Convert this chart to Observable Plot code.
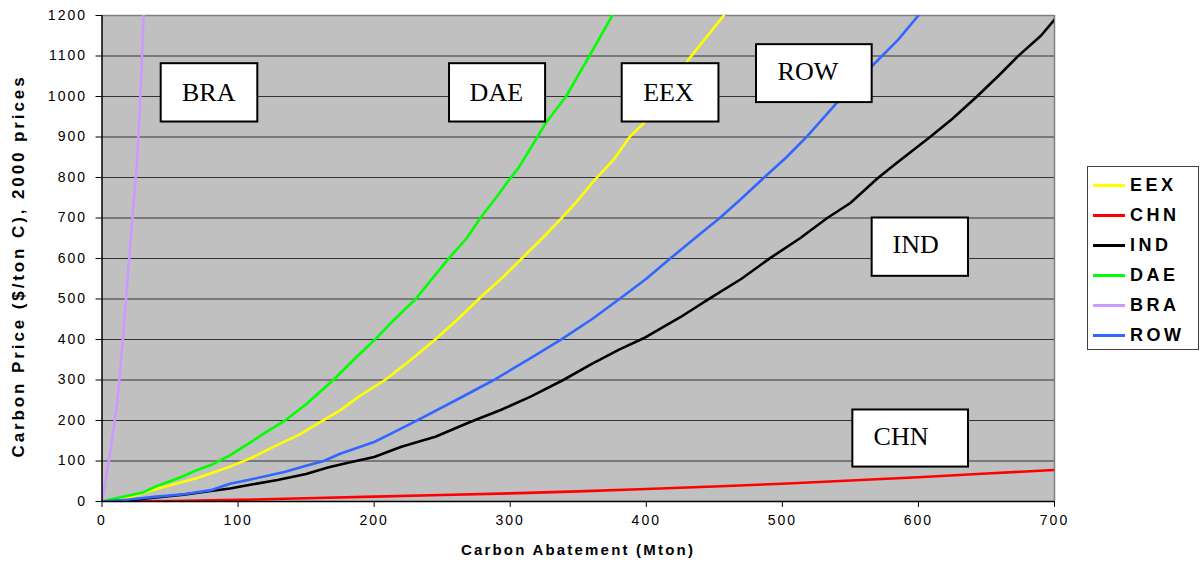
<!DOCTYPE html>
<html><head><meta charset="utf-8">
<script src="https://cdn.jsdelivr.net/npm/d3@7"></script>
<script src="https://cdn.jsdelivr.net/npm/@observablehq/plot@0.6"></script>
<style>
html,body{margin:0;padding:0;background:#fff;}
#wrap{position:relative;width:1203px;height:567px;overflow:hidden;}
#wrap svg{position:absolute;left:0;top:0;}
#legend{position:absolute;left:1087px;top:166px;width:112px;height:184px;border:1px solid #404040;background:#fff;box-sizing:border-box;font-family:"Liberation Sans",Arial,sans-serif;}
.item{position:absolute;left:5px;height:22px;display:flex;align-items:center;}
.sw{width:32px;height:3px;margin-right:5px;}
.lab{font-weight:bold;font-size:18px;letter-spacing:3.5px;color:#000;}
</style>
</head><body><div id="wrap"></div>
<script>
// ---- data ----
const regions = ["EEX", "CHN", "IND", "DAE", "BRA", "ROW"];
const colors = ["#FFFF00", "#FF0000", "#000000", "#00FF00", "#CC99FF", "#3366FF"];

const eexX = [0, 20, 33, 50, 70, 94, 110, 126, 145, 161, 175, 190, 208, 227, 246, 262, 280, 295, 310, 325, 339, 350, 361, 376, 388, 398, 415, 431, 445, 457];
const eexY = [0, 10, 24, 40, 58, 86, 108, 135, 165, 197, 225, 262, 300, 350, 403, 452, 510, 555, 605, 655, 704, 745, 790, 844, 901, 934, 1010, 1091, 1150, 1200];

const chnX = [0, 50, 100, 150, 200, 250, 300, 350, 400, 450, 500, 550, 600, 650, 700];
const chnY = [0, 1, 4, 8, 12, 16, 20, 25, 31, 37, 44, 52, 60, 69, 78];

const indX = [0, 20, 40, 60, 80, 94, 110, 129, 150, 166, 180, 200, 220, 245, 271, 293, 315, 339, 360, 380, 398, 425, 447, 470, 491, 513, 533, 550, 570, 584, 609, 625, 643, 660, 673, 690, 700];
const indY = [0, 3, 10, 17, 26, 32, 42, 53, 68, 84, 95, 110, 135, 160, 197, 226, 259, 300, 340, 375, 403, 455, 502, 550, 601, 650, 700, 737, 798, 836, 901, 945, 1000, 1055, 1099, 1150, 1190];

const daeX = [0, 10, 20, 30, 40, 50, 60, 70, 80, 94, 110, 120, 135, 150, 170, 185, 200, 215, 230, 245, 255, 268, 278, 290, 300, 306, 320, 326, 341, 358, 375];
const daeY = [0, 8, 15, 22, 38, 50, 63, 78, 90, 114, 148, 170, 201, 240, 300, 350, 398, 450, 498, 560, 601, 650, 700, 752, 798, 823, 900, 934, 1000, 1099, 1200];

const braX = [0, 3, 6, 8.3, 11.3, 13.5, 15.7, 18.1, 20.5, 22.3, 24, 25.5, 27.5, 29, 30.5];
const braY = [0, 60, 120, 175, 250, 330, 415, 520, 620, 700, 770, 825, 950, 1060, 1200];

const rowX = [0, 20, 40, 60, 80, 94, 110, 134, 150, 163, 175, 200, 215, 232, 260, 288, 315, 337, 360, 381, 400, 418, 437, 454, 469, 486, 503, 518, 540, 555, 567, 585, 600];
const rowY = [0, 5, 12, 18, 28, 44, 55, 73, 88, 100, 118, 147, 172, 201, 250, 300, 354, 399, 450, 502, 550, 601, 654, 700, 745, 798, 850, 901, 984, 1030, 1079, 1140, 1200];

const xTicks = [0, 100, 200, 300, 400, 500, 600, 700];
const yTicks = [0, 100, 200, 300, 400, 500, 600, 700, 800, 900, 1000, 1100, 1200];
const gridTicks = [100, 200, 300, 400, 500, 600, 700, 800, 900, 1000, 1100];

// on-chart label boxes (data units)
const annoText = ["BRA", "DAE", "EEX", "ROW", "IND", "CHN"];
const annoX1 = [43.5, 255.4, 382.3, 481, 566, 551.8];
const annoX2 = [114.5, 326, 453.4, 566, 636.8, 636.8];
const annoY1 = [937, 937, 937, 985, 556, 85];
const annoY2 = [1081, 1081, 1081, 1128, 700, 226];
const annoTx = [78.4, 289.8, 416.3, 518.8, 598, 587.2];
const annoTy = [1009, 1009, 1009, 1062, 634, 160];

const xTitle = "Carbon Abatement (Mton)";
const yTitle = "Carbon Price ($/ton C), 2000 prices";

// ---- build tables ----
const seriesX = {EEX: eexX, CHN: chnX, IND: indX, DAE: daeX, BRA: braX, ROW: rowX};
const seriesY = {EEX: eexY, CHN: chnY, IND: indY, DAE: daeY, BRA: braY, ROW: rowY};
const lineData = regions.flatMap(r => seriesX[r].map((x, i) => ({region: r, x, y: seriesY[r][i]})));
const annos = annoText.map((t, i) => ({name: t, x1: annoX1[i], x2: annoX2[i], y1: annoY1[i], y2: annoY2[i], tx: annoTx[i], ty: annoTy[i]}));

const chart = Plot.plot({
  width: 1203, height: 567,
  marginLeft: 101.5, marginRight: 149, marginTop: 15, marginBottom: 66,
  x: {domain: [0, 700]},
  y: {domain: [0, 1200]},
  color: {domain: regions, range: colors},
  style: {fontFamily: "Liberation Sans, Arial, sans-serif", fontSize: "14px", color: "#000", background: "transparent", letterSpacing: "2px"},
  marks: [
    Plot.frame({fill: "#C0C0C0", stroke: "none"}),
    Plot.gridY(gridTicks, {stroke: "#333", strokeOpacity: 1, strokeWidth: 1}),
    Plot.ruleY([1200], {stroke: "#808080", strokeWidth: 1.5}),
    Plot.ruleX([700], {stroke: "#808080", strokeWidth: 1.5}),
    Plot.line(lineData, {x: "x", y: "y", z: "region", stroke: "region", strokeWidth: 2.6, clip: true}),
    Plot.rect(annos, {x1: "x1", x2: "x2", y1: "y1", y2: "y2", fill: "white", stroke: "black", strokeWidth: 2}),
    Plot.text(annos, {x: "tx", y: "ty", text: "name", fontFamily: "Liberation Serif, Times New Roman, serif", fontSize: 26, fill: "black"}),
    Plot.ruleX([0], {stroke: "black", strokeWidth: 1.5}),
    Plot.ruleY([0], {stroke: "black", strokeWidth: 1.5}),
    Plot.axisX({ticks: xTicks, tickSize: 6, tickPadding: 8, label: null, tickFormat: d => String(d)}),
    Plot.axisY({ticks: yTicks, tickSize: 6, tickPadding: 9, label: null, tickFormat: d => String(d)})
  ]
});

const svg = d3.select(chart);
svg.selectAll('g[aria-label="text"] text').style("letter-spacing", "0px");
svg.append("text")
  .attr("transform", "translate(20,266) rotate(-90)")
  .attr("text-anchor", "middle").attr("dominant-baseline", "middle")
  .style("font-weight", "bold").style("font-size", "17px").style("letter-spacing", "2.9px")
  .text(yTitle);
svg.append("text")
  .attr("x", 578).attr("y", 551)
  .attr("text-anchor", "middle").attr("dominant-baseline", "middle")
  .style("font-weight", "bold").style("font-size", "15px").style("letter-spacing", "2.2px")
  .text(xTitle);

const wrap = document.getElementById("wrap");
wrap.appendChild(chart);

const legend = document.createElement("div");
legend.id = "legend";
regions.forEach((r, i) => {
  const item = document.createElement("div");
  item.className = "item";
  item.style.top = (7 + 30 * i) + "px";
  const sw = document.createElement("div");
  sw.className = "sw";
  sw.style.background = colors[i];
  const lab = document.createElement("span");
  lab.className = "lab";
  lab.textContent = r;
  item.appendChild(sw); item.appendChild(lab);
  legend.appendChild(item);
});
wrap.appendChild(legend);
</script>
</body></html>
